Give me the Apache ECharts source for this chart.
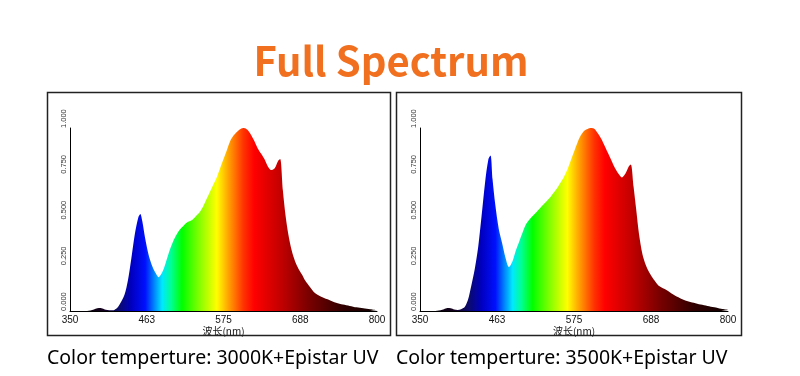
<!DOCTYPE html>
<html>
<head>
<meta charset="utf-8">
<script src="https://cdn.jsdelivr.net/npm/echarts@6/dist/echarts.min.js"></script>
<style>
html,body{margin:0;padding:0;background:#fff;}
#chart{width:800px;height:376px;}
</style>
</head>
<body>
<div id="chart"></div>
<script>
// ---- data ----
const titleText = 'Full Spectrum';
const captions = ['Color temperture: 3000K+Epistar UV', 'Color temperture: 3500K+Epistar UV'];
const xAxisName = '波长(nm)';
const xTickLabels = ['350', '463', '575', '688', '800'];
const yTickLabels = ['0.000', '0.250', '0.500', '0.750', '1.000'];

const wavelengths = [350,360,370,380,385,390,395,400,405,410,415,420,425,430,435,440,445,450,453,456,460,465,470,475,480,485,490,495,500,505,510,515,520,525,530,535,540,545,550,555,560,565,570,575,580,585,590,595,600,605,610,615,620,625,630,635,640,645,650,655,658,662,666,670,675,680,685,690,695,700,710,720,730,740,750,760,770,780,790,800];

const spectrum3000K = [0,0,0,0.003,0.008,0.015,0.016,0.01,0.005,0.004,0.006,0.02,0.05,0.09,0.17,0.29,0.42,0.51,0.53,0.49,0.40,0.31,0.25,0.21,0.185,0.21,0.26,0.32,0.37,0.41,0.44,0.46,0.48,0.49,0.50,0.52,0.54,0.57,0.61,0.65,0.69,0.73,0.78,0.83,0.88,0.93,0.96,0.98,0.995,1.0,0.99,0.965,0.93,0.89,0.86,0.83,0.79,0.77,0.78,0.82,0.83,0.66,0.52,0.42,0.33,0.27,0.23,0.20,0.165,0.14,0.095,0.075,0.06,0.045,0.035,0.028,0.02,0.015,0.01,0.005];

const spectrum3500K = [0,0,0,0.004,0.01,0.016,0.015,0.008,0.006,0.01,0.02,0.06,0.14,0.23,0.35,0.52,0.70,0.83,0.85,0.72,0.58,0.45,0.37,0.29,0.24,0.27,0.33,0.38,0.43,0.475,0.50,0.52,0.54,0.56,0.58,0.60,0.62,0.645,0.67,0.70,0.73,0.77,0.82,0.87,0.92,0.96,0.985,0.995,1.0,0.995,0.97,0.94,0.90,0.86,0.82,0.78,0.75,0.73,0.75,0.79,0.80,0.68,0.55,0.42,0.31,0.25,0.21,0.18,0.155,0.135,0.115,0.09,0.07,0.055,0.045,0.035,0.028,0.02,0.012,0.006];

// ---- chart ----
const chart = echarts.init(document.getElementById('chart'), null, {renderer: 'canvas'});

function spectrumGradient() {
  return new echarts.graphic.LinearGradient(0, 0, 1, 0, [
    {offset: 0.0, color: '#000000'},
    {offset: 0.11, color: '#14001e'},
    {offset: 0.16, color: '#0a0a70'},
    {offset: 0.20, color: '#0000c0'},
    {offset: 0.245, color: '#0010ff'},
    {offset: 0.275, color: '#0088ff'},
    {offset: 0.30, color: '#00e8ff'},
    {offset: 0.33, color: '#00ff90'},
    {offset: 0.365, color: '#00ff00'},
    {offset: 0.42, color: '#80ff00'},
    {offset: 0.478, color: '#ffff00'},
    {offset: 0.52, color: '#ff9900'},
    {offset: 0.565, color: '#ff3300'},
    {offset: 0.60, color: '#ff0000'},
    {offset: 0.69, color: '#c00000'},
    {offset: 0.78, color: '#780000'},
    {offset: 0.89, color: '#300000'},
    {offset: 1.0, color: '#100000'}
  ]);
}

function mkX(gridIndex) {
  return {
    gridIndex: gridIndex, type: 'value', min: 350, max: 800, interval: 112.5,
    name: xAxisName, nameLocation: 'middle', nameGap: 12,
    nameTextStyle: {fontSize: 10, color: '#111', fontFamily: 'Noto Sans CJK SC'},
    axisLine: {lineStyle: {color: '#000', width: 1}},
    axisTick: {show: false},
    splitLine: {show: false},
    axisLabel: {
      margin: 4, fontSize: 10, color: '#111', fontFamily: 'Liberation Sans',
      formatter: function (v, i) { return xTickLabels[i]; }
    }
  };
}
function mkY(gridIndex) {
  return {
    gridIndex: gridIndex, type: 'value', min: 0, max: 1, interval: 0.25,
    axisLine: {show: true, lineStyle: {color: '#000', width: 1}},
    axisTick: {show: false},
    splitLine: {show: false},
    axisLabel: {
      rotate: 90, margin: 2, fontSize: 7.5, color: '#333', fontFamily: 'Liberation Sans',
      align: 'left', verticalAlign: 'bottom',
      formatter: function (v, i) { return yTickLabels[i]; }
    }
  };
}
function mkSeries(idx, vals) {
  return {
    type: 'line', xAxisIndex: idx, yAxisIndex: idx,
    data: wavelengths.map((w, i) => [w, vals[i]]),
    smooth: 0.3, showSymbol: false, symbol: 'none',
    lineStyle: {width: 0},
    areaStyle: {color: spectrumGradient(), opacity: 1},
    silent: true, animation: false
  };
}

chart.setOption({
  animation: false,
  backgroundColor: '#ffffff',
  grid: [
    {left: 70, top: 128, width: 307, height: 183},
    {left: 420, top: 128, width: 308, height: 183}
  ],
  xAxis: [mkX(0), mkX(1)],
  yAxis: [mkY(0), mkY(1)],
  series: [mkSeries(0, spectrum3000K), mkSeries(1, spectrum3500K)],
  graphic: [
    {type: 'rect', shape: {x: 47.5, y: 92.5, width: 343, height: 243}, style: {fill: 'none', stroke: '#222', lineWidth: 1.5}, z: 100},
    {type: 'rect', shape: {x: 396.5, y: 92.5, width: 345, height: 243}, style: {fill: 'none', stroke: '#222', lineWidth: 1.5}, z: 100},
    {type: 'text', x: 391, y: 61, style: {text: titleText, fill: '#f07020', font: 'bold 40px "Noto Sans CJK SC"', textAlign: 'center', textVerticalAlign: 'middle'}},
    {type: 'text', x: 47, y: 358, style: {text: captions[0], fill: '#000', font: '19.5px "Noto Sans"', textAlign: 'left', textVerticalAlign: 'middle'}},
    {type: 'text', x: 396, y: 358, style: {text: captions[1], fill: '#000', font: '19.5px "Noto Sans"', textAlign: 'left', textVerticalAlign: 'middle'}}
  ]
});
</script>
</body>
</html>
